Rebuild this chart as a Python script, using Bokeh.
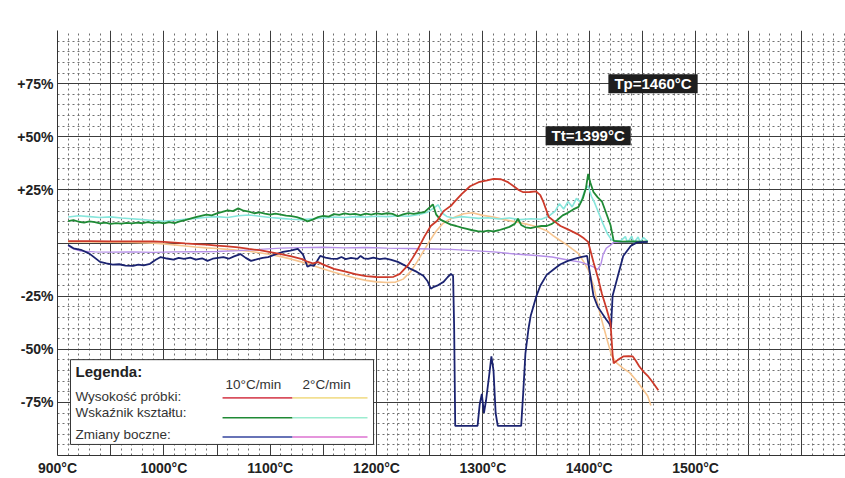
from bokeh.plotting import figure
from bokeh.models import Range1d, FixedTicker, Label
from bokeh.core.properties import value
from bokeh.embed import file_html
from bokeh.resources import INLINE

# ---------------- data (temperature °C, change %) ----------------
height_10 = [(910, 0.9), (930, 0.9), (950, 0.8), (970, 0.8), (990, 0.7), (1000, 0.5), (1010, 0.2),
             (1020, -0.2), (1030, -0.5), (1040, -0.8), (1050, -1.2), (1060, -1.6), (1070, -2.1),
             (1080, -2.8), (1090, -3.4), (1100, -4.3), (1110, -5.2), (1120, -6.3), (1130, -7.6),
             (1135, -8.8), (1140, -9.6), (1145, -9.0), (1150, -10.2), (1160, -12.2), (1170, -13.4),
             (1180, -14.6), (1190, -15.6), (1200, -16.0), (1210, -16.1), (1216, -15.9), (1222, -14.5),
             (1229, -10.8), (1234, -7.0), (1239, -2.8), (1245, 3.0), (1251, 8.0), (1257, 10.5),
             (1263, 15.0), (1270, 17.5), (1273, 19.2), (1280, 23.0), (1288, 26.7), (1296, 28.6),
             (1304, 29.5), (1310, 30.2), (1317, 30.0), (1323, 28.8), (1329, 26.7), (1334, 24.8),
             (1338, 23.9), (1344, 24.0), (1350, 24.3), (1354, 22.5), (1357, 19.2), (1362, 12.2),
             (1367, 10.3), (1373, 8.0), (1380, 6.4), (1389, 4.2), (1395, 2.2), (1399, 0.5),
             (1404, -9.0), (1408, -16.0), (1412, -24.0), (1416, -30.5), (1420, -37.5), (1421, -45.0),
             (1422, -52.5), (1423, -56.6), (1427, -55.0), (1432, -53.4), (1437, -53.2), (1441, -53.4),
             (1444, -55.5), (1447, -58.0), (1451, -60.5), (1455, -62.5), (1460, -65.8), (1465, -69.3)]

height_2 = [(910, 0.5), (930, 0.5), (950, 0.4), (970, 0.2), (990, -0.1), (1000, -0.4), (1010, -0.9),
            (1020, -1.4), (1030, -1.9), (1040, -2.3), (1050, -2.6), (1060, -3.0), (1070, -3.4),
            (1080, -3.9), (1090, -4.6), (1100, -5.4), (1110, -6.4), (1120, -7.6), (1130, -9.0),
            (1140, -10.6), (1150, -12.2), (1160, -13.8), (1170, -15.2), (1180, -16.5), (1190, -17.6),
            (1200, -18.3), (1210, -18.6), (1218, -18.4), (1225, -17.0), (1232, -13.5), (1238, -9.0),
            (1244, -4.0), (1250, 1.0), (1256, 5.5), (1262, 9.0), (1268, 11.0), (1275, 12.5),
            (1282, 13.8), (1290, 14.2), (1300, 13.0), (1310, 12.2), (1320, 11.0), (1330, 10.0),
            (1340, 9.0), (1350, 7.8), (1360, 5.8), (1366, 3.5), (1372, 1.4), (1378, -0.5),
            (1384, -2.8), (1390, -5.0), (1395, -9.0), (1399, -12.5), (1404, -20.0), (1410, -33.0),
            (1416, -44.0), (1421, -53.0), (1426, -56.5), (1432, -59.0), (1438, -61.0), (1444, -64.5),
            (1450, -68.5), (1455, -72.0), (1458, -76.5)]

shape_10 = [(910, 10.3), (915, 10.8), (920, 10.0), (925, 9.6), (930, 10.2), (935, 9.8), (940, 9.2),
            (945, 9.6), (950, 9.0), (955, 9.4), (960, 9.1), (965, 9.5), (970, 9.2), (975, 9.6),
            (980, 9.3), (985, 9.8), (990, 9.4), (995, 9.7), (1000, 9.2), (1005, 9.8), (1010, 9.4),
            (1015, 10.2), (1020, 10.8), (1025, 11.5), (1030, 12.2), (1035, 12.8), (1040, 13.4),
            (1045, 13.0), (1050, 13.9), (1055, 14.6), (1060, 15.4), (1065, 15.0), (1070, 16.3),
            (1075, 15.2), (1080, 14.8), (1085, 14.0), (1090, 14.4), (1095, 13.8), (1100, 13.3),
            (1105, 13.8), (1110, 13.4), (1115, 12.9), (1120, 12.6), (1125, 12.2), (1130, 11.4),
            (1135, 10.2), (1140, 11.0), (1145, 12.2), (1150, 12.8), (1155, 12.4), (1160, 13.6),
            (1165, 13.2), (1170, 13.9), (1175, 13.5), (1180, 13.7), (1185, 13.1), (1190, 13.8),
            (1195, 13.4), (1200, 13.9), (1205, 13.6), (1210, 14.0), (1215, 13.7), (1220, 12.6),
            (1225, 13.5), (1230, 14.1), (1235, 13.7), (1240, 14.2), (1245, 14.5), (1250, 16.8),
            (1253, 18.2), (1256, 13.5), (1260, 11.0), (1265, 9.8), (1270, 8.6), (1275, 8.0),
            (1280, 7.2), (1285, 6.6), (1290, 6.0), (1295, 5.6), (1300, 5.4), (1305, 5.8),
            (1310, 5.5), (1315, 6.0), (1320, 6.8), (1325, 7.6), (1330, 9.0), (1333, 11.4),
            (1336, 8.5), (1340, 7.4), (1345, 7.0), (1350, 7.6), (1355, 8.0), (1360, 8.0),
            (1365, 9.0), (1370, 10.8), (1375, 13.0), (1380, 14.2), (1385, 15.8), (1390, 17.0),
            (1394, 21.0), (1397, 26.0), (1399, 32.5), (1401, 28.5), (1404, 24.0), (1408, 21.5),
            (1412, 19.5), (1416, 14.0), (1420, 8.5), (1423, 1.0), (1430, 0.6), (1440, 0.8),
            (1450, 0.6), (1455, 0.7)]

shape_2 = [(910, 12.2), (920, 12.8), (930, 12.4), (940, 12.0), (950, 12.3), (960, 11.8), (970, 11.4),
           (980, 11.0), (990, 10.6), (1000, 10.2), (1010, 10.7), (1020, 11.2), (1030, 11.6),
           (1040, 12.1), (1050, 12.4), (1060, 12.0), (1070, 12.8), (1080, 13.2), (1090, 12.6),
           (1100, 12.0), (1110, 11.6), (1120, 11.2), (1130, 11.0), (1140, 11.4), (1150, 11.8),
           (1160, 12.2), (1170, 12.0), (1180, 12.4), (1190, 12.2), (1200, 12.6), (1210, 12.4),
           (1220, 12.8), (1230, 12.6), (1240, 13.4), (1248, 14.5), (1254, 16.5), (1258, 18.0),
           (1262, 14.0), (1266, 12.5), (1272, 11.8), (1280, 12.4), (1288, 12.0), (1296, 11.6),
           (1305, 11.9), (1315, 11.3), (1325, 11.8), (1335, 11.0), (1345, 11.4), (1355, 11.2),
           (1362, 12.6), (1368, 15.0), (1372, 18.5), (1376, 16.0), (1380, 19.5), (1384, 17.0),
           (1388, 21.0), (1392, 19.0), (1396, 25.0), (1399, 27.0), (1402, 22.0), (1405, 19.0),
           (1409, 14.0), (1413, 9.0), (1417, 4.5), (1421, 1.5), (1425, 0.8), (1430, 1.2),
           (1434, 3.0), (1436, 0.2), (1440, 3.2), (1442, 0.0), (1446, 2.8), (1448, 0.3),
           (1451, 2.6), (1455, 0.8)]

lateral_10 = [(910, -0.9), (915, -2.5), (922, -3.2), (930, -5.0), (940, -8.9), (946, -9.6), (952, -10.2),
              (958, -10.0), (964, -10.6), (971, -10.8), (976, -10.2), (981, -10.5), (987, -9.8),
              (992, -8.0), (997, -6.6), (1003, -7.3), (1009, -7.8), (1014, -7.0), (1019, -7.5),
              (1025, -6.9), (1030, -7.8), (1036, -7.2), (1041, -8.4), (1046, -7.4), (1051, -7.0),
              (1056, -6.6), (1061, -7.4), (1066, -6.3), (1072, -5.2), (1077, -7.0), (1082, -8.4),
              (1088, -7.6), (1093, -7.0), (1098, -6.6), (1105, -5.4), (1112, -4.2), (1119, -3.6),
              (1126, -2.8), (1131, -5.5), (1135, -11.2), (1138, -10.4), (1141, -10.8), (1144, -8.6),
              (1147, -6.1), (1152, -6.9), (1157, -7.4), (1163, -7.5), (1167, -6.6), (1171, -7.6),
              (1176, -7.0), (1182, -7.5), (1185, -6.1), (1188, -7.2), (1192, -7.5), (1197, -6.9),
              (1203, -7.6), (1208, -7.2), (1214, -7.9), (1220, -8.9), (1226, -10.4), (1232, -12.2),
              (1238, -13.6), (1244, -15.4), (1248, -18.0), (1251, -21.5), (1254, -20.6), (1257, -20.1),
              (1260, -19.2), (1263, -18.3), (1267, -16.0), (1270, -14.5), (1272, -15.5), (1273, -40.0),
              (1274, -86.1), (1295, -86.1), (1297, -76.0), (1299, -71.0), (1301, -80.0), (1303, -74.0),
              (1306, -62.0), (1308, -53.4), (1310, -60.0), (1312, -80.0), (1314, -86.1), (1336, -86.1),
              (1338, -70.0), (1340, -52.0), (1343, -40.0), (1345, -34.2), (1350, -25.5), (1354, -20.1),
              (1360, -15.0), (1367, -12.2), (1373, -10.0), (1380, -8.4), (1386, -7.5), (1392, -6.6),
              (1398, -6.1), (1400, -12.2), (1404, -24.8), (1408, -30.0), (1412, -33.0), (1416, -36.0),
              (1419, -38.0), (1420.5, -40.0), (1422, -24.8), (1427, -15.4), (1432, -6.1), (1439, -1.4),
              (1445, 0.3), (1455, 0.5)]

lateral_2 = [(910, -1.4), (915, -2.8), (922, -3.8), (935, -4.2), (950, -4.3), (970, -4.2), (990, -4.4),
             (1010, -4.2), (1030, -4.1), (1050, -4.0), (1070, -3.6), (1090, -3.0), (1110, -2.4),
             (1130, -2.2), (1150, -2.0), (1170, -2.3), (1190, -2.1), (1210, -2.4), (1230, -2.6),
             (1250, -2.8), (1270, -3.0), (1290, -3.6), (1310, -4.2), (1330, -5.2), (1350, -5.9),
             (1365, -6.6), (1380, -8.0), (1392, -9.0), (1400, -10.4), (1404, -11.2), (1408, -12.5),
             (1411, -10.0), (1413, -5.5), (1416, -2.5), (1420, -1.0), (1423, 0.3), (1440, 0.4),
             (1455, 0.5)]

Tp = 1460
Tt = 1399
x_ticks = [900, 1000, 1100, 1200, 1300, 1400, 1500]
y_ticks = [-75, -50, -25, 25, 50, 75]
legend_title = "Legenda:"
rate_labels = ["10°C/min", "2°C/min"]
series_labels = ["Wysokość próbki:", "Wskaźnik kształtu:", "Zmiany boczne:"]

# ---------------- styling ----------------
FONT = "Liberation Sans"
c_h10, c_h2 = "#cc3a2a", "#f6c48e"
c_s10, c_s2 = "#1f8a35", "#86e6dc"
c_l10, c_l2 = "#1b2370", "#b58fe8"

p = figure(width=845, height=478, x_range=Range1d(900, 1641), y_range=Range1d(-100, 100),
           output_backend="svg", toolbar_location=None)
p.min_border = 0
p.min_border_left = 57
p.min_border_top = 30
p.min_border_bottom = 22
p.min_border_right = 0
p.outline_line_color = None
p.background_fill_color = "white"
p.border_fill_color = "white"

# grids
p.xgrid.ticker = FixedTicker(ticks=list(range(900, 1651, 50)), minor_ticks=list(range(900, 1651, 10)))
p.ygrid.ticker = FixedTicker(ticks=list(range(-100, 101, 25)), minor_ticks=list(range(-100, 101, 5)))
for g in (p.xgrid[0], p.ygrid[0]):
    g.grid_line_color = "#3c3c3c"
    g.grid_line_width = 1
    g.minor_grid_line_color = "#707070"
    g.minor_grid_line_dash = "2 3"
    g.minor_grid_line_width = 1

# axes
p.xaxis.ticker = FixedTicker(ticks=x_ticks)
p.xaxis.major_label_overrides = {t: f"{t}°C" for t in x_ticks}
p.yaxis.ticker = FixedTicker(ticks=y_ticks)
p.yaxis.major_label_overrides = {t: (f"+{t}%" if t > 0 else f"{t}%") for t in y_ticks}
for ax in (p.xaxis[0], p.yaxis[0]):
    ax.axis_line_color = "#333333"
    ax.axis_line_width = 1
    ax.major_tick_line_color = None
    ax.minor_tick_line_color = None
    ax.major_tick_out = 0
    ax.major_tick_in = 0
    ax.minor_tick_out = 0
    ax.minor_tick_in = 0
    ax.major_label_text_font = FONT
    ax.major_label_text_font_size = "14px"
    ax.major_label_text_font_style = "bold"
    ax.major_label_text_color = "#222222"
    ax.major_label_standoff = 4

# series
def xs(d):
    return [a for a, _ in d]

def ys(d):
    return [b for _, b in d]

p.line(xs(height_2), ys(height_2), color=c_h2, line_width=1.6)
p.line(xs(shape_2), ys(shape_2), color=c_s2, line_width=1.6)
p.line(xs(lateral_2), ys(lateral_2), color=c_l2, line_width=1.4)
p.line(xs(shape_10), ys(shape_10), color=c_s10, line_width=1.8)
p.line(xs(lateral_10), ys(lateral_10), color=c_l10, line_width=1.8)
p.line(xs(height_10), ys(height_10), color=c_h10, line_width=1.8)

# legend box
p.quad(left=[912.2], right=[1197.2], top=[-54.9], bottom=[-94.8], fill_color="white",
       line_color="#333333", line_width=1)
p.text(x=[916.9], y=[-60.6], text=[legend_title], text_font=value(FONT),
       text_font_size=value("15px"), text_font_style="bold", text_baseline="middle",
       text_color="#222222")
p.text(x=[1058, 1130.4], y=[-66.7, -66.7], text=rate_labels, text_font=value(FONT),
       text_font_size=value("13.5px"), text_baseline="middle", text_color="#333333")
p.text(x=[916.9, 916.9, 916.9], y=[-72.3, -79.8, -90.2], text=series_labels, text_font=value(FONT),
       text_font_size=value("13.5px"), text_baseline="middle", text_color="#333333")
p.segment(x0=[1055.2, 1121, 1055.2, 1121, 1055.2, 1121],
          y0=[-72.9, -72.9, -82.2, -82.2, -91.3, -91.3],
          x1=[1121, 1191.5, 1121, 1191.5, 1121, 1191.5],
          y1=[-72.9, -72.9, -82.2, -82.2, -91.3, -91.3],
          color=["#d9505e", "#f2df92", c_s10, "#9beccf", "#34449e", "#dd72d0"], line_width=1.6)

# temperature labels
for temp, name, yy in ((Tp, "Tp", 75), (Tt, "Tt", 50.5)):
    p.add_layout(Label(x=temp, y=yy, text=f"{name}={temp}°C", text_color="white",
                       text_font=FONT, text_font_size="15px", text_font_style="bold",
                       text_align="center", text_baseline="middle",
                       background_fill_color="#1e1e1e", padding=(6, 1)))

open("out.html", "w").write(file_html(p, INLINE))
